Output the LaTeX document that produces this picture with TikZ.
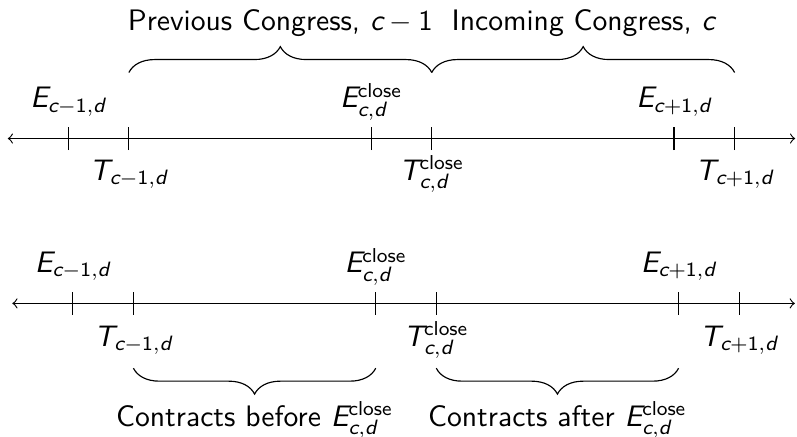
\documentclass[tikz,border=0pt]{standalone}
\usetikzlibrary{decorations.pathreplacing, calc}
\DeclareMathAlphabet{\mathsfit}{TU}{lmss}{m}{sl}
\newcommand{\mv}[1]{\mathsfit{#1}}
\newcommand{\Eprev}{$\mv{E}_{\mv{c}-\mathsf{1},\mv{d}}$}
\newcommand{\Tprev}{$\mv{T}_{\mv{c}-\mathsf{1},\mv{d}}$}
\newcommand{\Enext}{$\mv{E}_{\mv{c}+\mathsf{1},\mv{d}}$}
\newcommand{\Tnext}{$\mv{T}_{\mv{c}+\mathsf{1},\mv{d}}$}
\newcommand{\Eclose}{$\mv{E}_{\mv{c},\mv{d}}^{\mathsf{close}}$}
\newcommand{\Tclose}{$\mv{T}_{\mv{c},\mv{d}}^{\mathsf{close}}$}
\tikzset{
	brc/.style={decorate, decoration={brace, amplitude=9pt}},
	elab/.style={anchor=base},
	tlab/.style={anchor=base},
}
\begin{document}
\begin{tikzpicture}[x=0.74cm, y=0.74cm, font=\fontsize{10.3}{12.4}\selectfont\sffamily]
	\useasboundingbox (-1.128,-4.913) rectangle (12.03,2.287);

	\coordinate (l1) at (-1,0);
	\coordinate (r1) at (12,0);
	\draw[<->] (l1) -- (r1);
	\foreach \x/\n in {0/Ep, 1/Tp, 5/Ec, 6/Tc, 10/En, 11/Tn} {
		\coordinate (a\n) at (\x,0);
		\draw (\x,-.19) -- (\x,.19);
	}
	\node[elab] (aEplab) at (0,.51) {\Eprev};
	\node[tlab] (aTplab) at (1,-.69) {\Tprev};
	\node[elab] (aEclab) at (5,.51) {\Eclose};
	\node[tlab] (aTclab) at (6,-.69) {\Tclose};
	\node[elab] (aEnlab) at (10,.51) {\Enext};
	\node[tlab] (aTnlab) at (11,-.69) {\Tnext};

	\draw[brc] ($(aTp)+(0,1.09)$) -- ($(aTc)+(0,1.09)$) node[midway, anchor=base, yshift=14.6pt] (prev) {Previous Congress, $\mv{c}-\mathsf{1}$};
	\draw[brc] ($(aTc)+(0,1.09)$) -- ($(aTn)+(0,1.09)$) node[midway, anchor=base, yshift=14.6pt] (inc) {Incoming Congress, $\mv{c}$};

	\begin{scope}[shift={(.075,-2.722)}]
		\coordinate (l2) at (-1,0);
		\coordinate (r2) at (11.92,0);
		\draw[<->] (l2) -- (r2);
		\foreach \x/\n in {0/Ep, 1/Tp, 5/Ec, 6/Tc, 10/En, 11/Tn} {
			\coordinate (b\n) at (\x,0);
			\draw (\x,-.19) -- (\x,.19);
		}
		\node[elab] (bEplab) at (0,.51) {\Eprev};
		\node[tlab] (bTplab) at (1,-.71) {\Tprev};
		\node[elab] (bEclab) at (5,.51) {\Eclose};
		\node[tlab] (bTclab) at (6,-.71) {\Tclose};
		\node[elab] (bEnlab) at (10,.51) {\Enext};
		\node[tlab] (bTnlab) at (11,-.71) {\Tnext};

		\draw[brc] ($(bEc)+(0,-1.07)$) -- ($(bTp)+(0,-1.07)$) node[midway, anchor=base, yshift=-20.2pt] (before) {Contracts before \Eclose};
		\draw[brc] ($(bEn)+(0,-1.07)$) -- ($(bTc)+(0,-1.07)$) node[midway, anchor=base, yshift=-20.2pt] (after) {Contracts after \Eclose};
	\end{scope}
\end{tikzpicture}
\end{document}
